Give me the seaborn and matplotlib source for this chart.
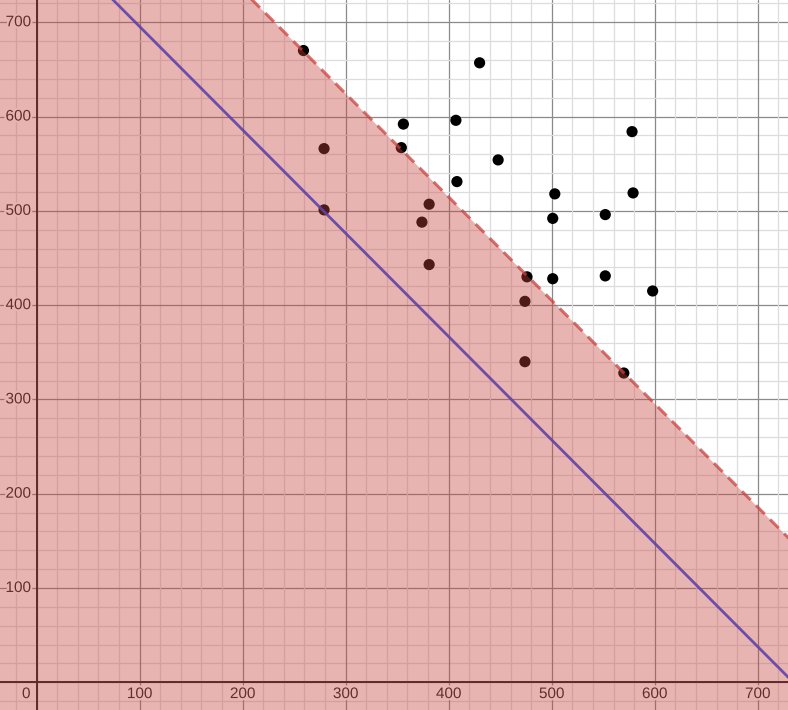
import numpy as np
import pandas as pd
import matplotlib
matplotlib.use("Agg")
import matplotlib.pyplot as plt
import matplotlib.patheffects as pe
import seaborn as sns

# data points
px = [259, 430, 356, 407, 279, 354, 448, 578, 408, 503, 579, 381,
      279, 374, 501, 552, 381, 476, 501, 552, 598, 474, 474, 570]
py = [670, 657, 592, 596, 566, 567, 554, 584, 531, 518, 519, 507,
      501, 488, 492, 496, 443, 430, 428, 431, 415, 404, 340, 328]

# lines y = b + m*x
slope = -1.096
fit_icpt = 805      # solid purple line
bound_icpt = 953    # dashed boundary of the shaded region

xticks = [0, 100, 200, 300, 400, 500, 600, 700]
yticks = [100, 200, 300, 400, 500, 600, 700]

RED = "#c74440"
PURPLE = "#6042a6"

sns.set_style("white")
plt.rcParams["font.family"] = ["Liberation Sans", "DejaVu Sans"]

fig = plt.figure(figsize=(7.88, 7.10), dpi=100)
ax = fig.add_axes([0, 0, 1, 1])
xmin, xmax = -35.6, 729.4
ymin, ymax = -29.4, 723.6

# grid
for v in np.arange(-20, 740, 20):
    major = v % 100 == 0
    c = "#8a8a8a" if major else "#dddddd"
    ax.axvline(v, color=c, lw=0.9, zorder=0)
    ax.axhline(v, color=c, lw=0.9, zorder=0)
ax.axhline(0, color="#1a1a1a", lw=1.4, zorder=1)
ax.axvline(0, color="#1a1a1a", lw=1.4, zorder=1)

df = pd.DataFrame({"x": px, "y": py})
sns.scatterplot(data=df, x="x", y="y", color="black", s=65, edgecolor="none", ax=ax, zorder=2)

# tick labels with white halo
halo = [pe.withStroke(linewidth=3, foreground="white")]
for t in xticks[1:]:
    ax.text(t, -12.5, str(t), ha="center", va="center", fontsize=11, color="#222222",
            zorder=2, path_effects=halo)
ax.text(-6, -12.5, "0", ha="right", va="center", fontsize=11, color="#222222",
        zorder=2, path_effects=halo)
for t in yticks:
    ax.text(-5.5, t, str(t), ha="right", va="center", fontsize=11, color="#222222",
            zorder=2, path_effects=halo)

# shaded region below dashed boundary
xs = np.array([xmin - 10, xmax + 10])
ax.fill_between(xs, ymin - 10, bound_icpt + slope * xs, color=RED, alpha=0.4, lw=0, zorder=5)

lines = pd.DataFrame({"x": xs, "fit": fit_icpt + slope * xs, "bound": bound_icpt + slope * xs})
sns.lineplot(data=lines, x="x", y="bound", color=RED, lw=2.2, alpha=0.75,
             linestyle=(0, (4, 2.5)), ax=ax, zorder=6)
sns.lineplot(data=lines, x="x", y="fit", color=PURPLE, lw=2.0, alpha=0.9, ax=ax, zorder=6)

ax.set_xlim(xmin, xmax)
ax.set_ylim(ymin, ymax)
ax.set_xticks([])
ax.set_yticks([])
ax.set_xlabel("")
ax.set_ylabel("")
for s in ax.spines.values():
    s.set_visible(False)

fig.savefig("out.png", dpi=100)
